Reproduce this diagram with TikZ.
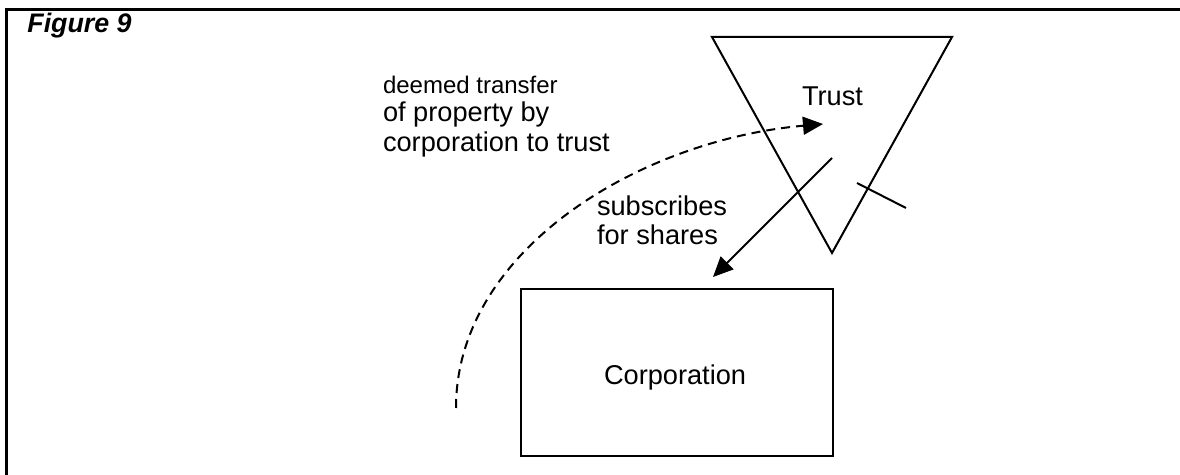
\documentclass[tikz,border=0pt]{standalone}
\usepackage{fontspec}
\setmainfont{Liberation Sans}
\usetikzlibrary{arrows.meta}
\tikzset{
  lbl/.style={inner sep=0pt, outer sep=0pt, anchor=base west, font=\fontsize{13.6}{15}\selectfont},
  small/.style={inner sep=0pt, outer sep=0pt, anchor=base west, font=\fontsize{12}{14}\selectfont},
  shape line/.style={line width=1pt},
  frame line/.style={line width=1.5pt},
  tip/.style={-{Triangle[length=10pt,width=9pt]}},
}
\begin{document}
\begin{tikzpicture}[x=0.5pt,y=-0.5pt]
\useasboundingbox (0,0) rectangle (1180,475);
% frame
\draw[frame line] (6,475) -- (6,10) -- (1180,10);
\node[inner sep=0pt, anchor=base west, font=\fontsize{13.4}{15}\selectfont\bfseries\itshape] (fig) at (27,33) {Figure 9};
% trust triangle
\coordinate (tl) at (712,37);
\coordinate (tr) at (952,37);
\coordinate (tb) at (832,253);
\draw[shape line, line join=miter] (tl) -- (tr) -- (tb) -- cycle;
\node[lbl] (trust) at (802,106) {Trust};
% tick mark
\coordinate (k1) at (857,183);
\coordinate (k2) at (906,208);
\draw[shape line] (k1) -- (k2);
% corporation box
\node[draw, shape line, minimum width=156pt, minimum height=83.5pt, inner sep=0pt] (corp) at (677,372.5) {};
\node[lbl] (corptxt) at (604,385) {Corporation};
% subscribes arrow
\coordinate (s1) at (832,158);
\coordinate (s2) at (713,277);
\draw[shape line, tip] (s1) -- (s2);
\node[lbl] (sub1) at (597,216) {subscribes};
\node[lbl] (sub2) at (597,245) {for shares};
% deemed transfer dashed arrow
\coordinate (d1) at (456,408);
\coordinate (d2) at (823,124);
\draw[shape line, dash pattern=on 4.5pt off 3pt, tip] (d1) .. controls (456,250) and (640,140) .. (d2);
\node[small] (dt1) at (383,94) {deemed transfer};
\node[lbl] (dt2) at (383,122) {of property by};
\node[lbl] (dt3) at (383,152) {corporation to trust};
\end{tikzpicture}
\end{document}
